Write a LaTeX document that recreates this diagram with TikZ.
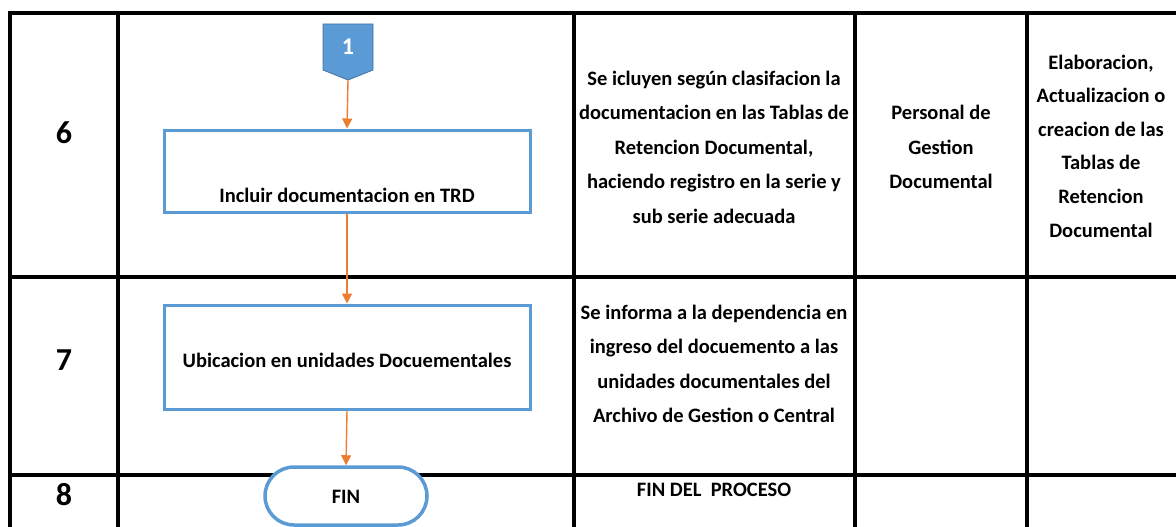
\documentclass[tikz,border=0pt]{standalone}
\usepackage{fontspec}
\setmainfont{Carlito}
\usetikzlibrary{arrows.meta,shapes.misc}
\definecolor{boxblue}{HTML}{5B9BD5}
\definecolor{darkblue}{HTML}{41719C}
\definecolor{arroworange}{HTML}{ED7D31}
\begin{document}
\begin{tikzpicture}[x=1pt,y=-1pt,
  grid/.style={line width=3.5pt,black},
  celltext/.style={font=\fontsize{20.5}{34.5}\selectfont\bfseries,align=center,inner sep=0pt},
  numtext/.style={font=\fontsize{32}{34}\selectfont\bfseries,inner sep=0pt},
  procbox/.style={draw=boxblue,line width=3pt,fill=white,inner sep=0pt},
  finbox/.style={draw=boxblue,line width=3.5pt,fill=white,rounded rectangle,inner sep=0pt,minimum width=162pt,minimum height=58pt},
  flow/.style={arroworange,line width=1.4pt,-{Triangle[width=10pt,length=10pt]}},
  pent/.style={fill=boxblue,draw=darkblue,line width=0.8pt}]
\useasboundingbox (0,0) rectangle (1176,527);
% table grid
\draw[grid] (10,13) -- (1176,13);
\draw[grid] (10,277) -- (1176,277);
\draw[grid] (10,475) -- (1176,475);
\foreach \xx in {10,118,574,855,1027} \draw[grid] (\xx,11.25) -- (\xx,527);
% row numbers
\node[numtext] (n6) at (64,133) {6};
\node[numtext] (n7) at (64,360) {7};
\node[numtext] (n8) at (64,495) {8};
% description column
\node[celltext] (d6) at (714,147) {Se icluyen según clasifacion la\\documentacion en las Tablas de\\Retencion Documental,\\haciendo registro en la serie y\\sub serie adecuada};
\node[celltext] (d7) at (714,364) {Se informa a la dependencia en\\ingreso del docuemento a las\\unidades documentales del\\Archivo de Gestion o Central};
\node[celltext] (d8) at (714,490) {FIN DEL\ \ PROCESO};
\node[celltext] (r6) at (941,147) {Personal de\\Gestion\\Documental};
\node[celltext,font=\fontsize{20.5}{33.6}\selectfont\bfseries] (p6) at (1101,146) {Elaboracion,\\Actualizacion o\\creacion de las\\Tablas de\\Retencion\\Documental};
% flow
\draw[pent] (323,24) -- (373,24) -- (373,70) -- (348,80) -- (323,70) -- cycle;
\node[celltext,text=white,font=\fontsize{24}{26}\selectfont\bfseries] (c1) at (348,47) {1};
\coordinate (c1tip) at (348,80);
\node[procbox,minimum width=366pt,minimum height=82pt,
  label={[celltext,yshift=-24pt]center:Incluir documentacion en TRD}] (b1) at (347,171) {};
\node[procbox,minimum width=366pt,minimum height=104pt,
  label={[celltext,yshift=-3pt]center:Ubicacion en unidades Docuementales}] (b2) at (347,357) {};
\node[finbox] (fin) at (346,496) {};
\node[celltext] (fint) at (346,497) {FIN};
\draw[flow] (c1tip) -- (b1.north);
\draw[flow] (b1.south) -- (b2.north);
\draw[flow] (b2.south) -- (fin.north);
\end{tikzpicture}
\end{document}
